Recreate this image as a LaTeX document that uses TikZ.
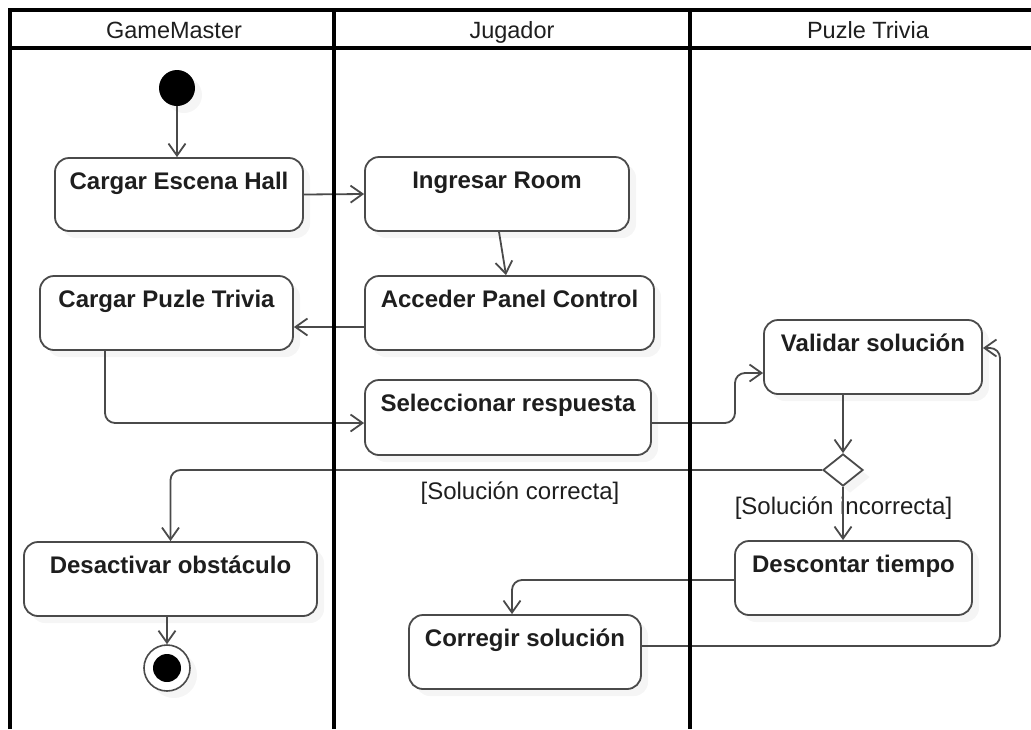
\documentclass[tikz,border=0pt]{standalone}
\usepackage{fontspec}
\setmainfont{Liberation Sans}
\usetikzlibrary{arrows.meta,shadows,shapes.geometric}
\definecolor{edge}{HTML}{4A4A4A}
\definecolor{ink}{HTML}{1E1E1E}
\begin{document}
\begin{tikzpicture}[x=1pt,y=-1pt,
  lane/.style={line width=3.5pt, draw=black},
  head/.style={anchor=base, font=\fontsize{23.5}{28}\selectfont, text=ink, inner sep=0pt},
  soft/.style={drop shadow={shadow xshift=7pt, shadow yshift=-7pt, fill=black!8}},
  act/.style={draw=edge, line width=1.8pt, rounded corners=14pt, fill=white,
    inner sep=0pt, soft},
  acttext/.style={anchor=base, yshift=-32pt, inner sep=0pt, text=ink,
    font=\bfseries\fontsize{24}{28}\selectfont},
  guard/.style={font=\fontsize{24}{28}\selectfont, text=ink, inner sep=0pt},
  flow/.style={draw=edge, line width=1.8pt, rounded corners=10pt,
    -{Straight Barb[length=12pt, width=17pt, line width=1.8pt]}},
]
\useasboundingbox (0,0) rectangle (1031,729);

% lane headers
\node[head] (h1) at (174,38) {GameMaster};
\node[head] (h2) at (512,38) {Jugador};
\node[head] (h3) at (868,38) {Puzle Trivia};

% initial and final nodes
\node[circle, fill=black, minimum size=36pt, inner sep=0pt, soft] (start) at (177,88) {};
\node[circle, draw=edge, line width=1.6pt, fill=white, minimum size=46pt, inner sep=0pt, soft,
  path picture={\fill[black] (path picture bounding box.center) circle (14pt);}] (end) at (167,668) {};

% activities
\node[act, minimum width=248pt, minimum height=73pt, label={[acttext]north:Cargar Escena Hall}] (hall) at (179,194.5) {};
\node[act, minimum width=264pt, minimum height=74pt, label={[acttext]north:Ingresar Room}] (room) at (497,194) {};
\node[act, minimum width=289pt, minimum height=74pt, label={[acttext]north:Acceder Panel Control}] (panel) at (509.5,313) {};
\node[act, minimum width=253pt, minimum height=74pt, label={[acttext]north:Cargar Puzle Trivia}] (puzle) at (166.5,313) {};
\node[act, minimum width=286pt, minimum height=75pt, label={[acttext]north:Seleccionar respuesta}] (resp) at (508,417.5) {};
\node[act, minimum width=218pt, minimum height=74pt, label={[acttext]north:Validar solución}] (valid) at (873,357) {};
\node[act, minimum width=237pt, minimum height=74pt, label={[acttext]north:Descontar tiempo}] (desc) at (853.5,578) {};
\node[act, minimum width=232pt, minimum height=74pt, label={[acttext]north:Corregir solución}] (corr) at (525,652) {};
\node[act, minimum width=293pt, minimum height=74pt, label={[acttext]north:Desactivar obstáculo}] (desact) at (170.5,579) {};

% decision
\node[diamond, draw=edge, line width=1.8pt, fill=white, minimum width=40pt, minimum height=32pt,
  inner sep=0pt, soft] (dia) at (843,470) {};

% guards
\node[guard] (gok) at (520,493) {[Solución correcta]};
\node[guard] (gno) at (843.5,508) {[Solución incorrecta]};

% bend points
\coordinate (kr) at (735,400);
\coordinate (kc) at (512,600);
\coordinate (ka) at (1000,500);

% flows
\draw[flow] (start) -- (start |- hall.north);
\draw[flow] (hall.east) -- (room.west);
\draw[flow] ([xshift=2pt]room.south) -- ([xshift=-3.5pt]panel.north);
\draw[flow] ([yshift=-14pt]panel.west) -- ([yshift=-14pt]puzle.east);
\draw[flow] ([xshift=-61.5pt]puzle.south) |- ([yshift=-5.5pt]resp.west);
\draw[flow] ([yshift=-5.5pt]resp.east) -| (kr) |- ([yshift=-16pt]valid.west);
\draw[flow] (valid.south -| dia) -- (dia.north);
\draw[flow] (dia.west) -| (desact.north);
\draw[flow] (dia.south) -- (dia |- desc.north);
\draw[flow] ([yshift=-2pt]desc.west) -| (kc |- corr.north);
\draw[flow] ([yshift=6pt]corr.east) -| (ka) |- ([yshift=9pt]valid.east);
\draw[flow] (end |- desact.south) -- (end);

% swimlane frame
\draw[lane] (10,729) -- (10,10) -- (1031,10);
\draw[lane] (10,48) -- (1031,48);
\draw[lane] (334,10) -- (334,729);
\draw[lane] (690,10) -- (690,729);
\end{tikzpicture}
\end{document}
